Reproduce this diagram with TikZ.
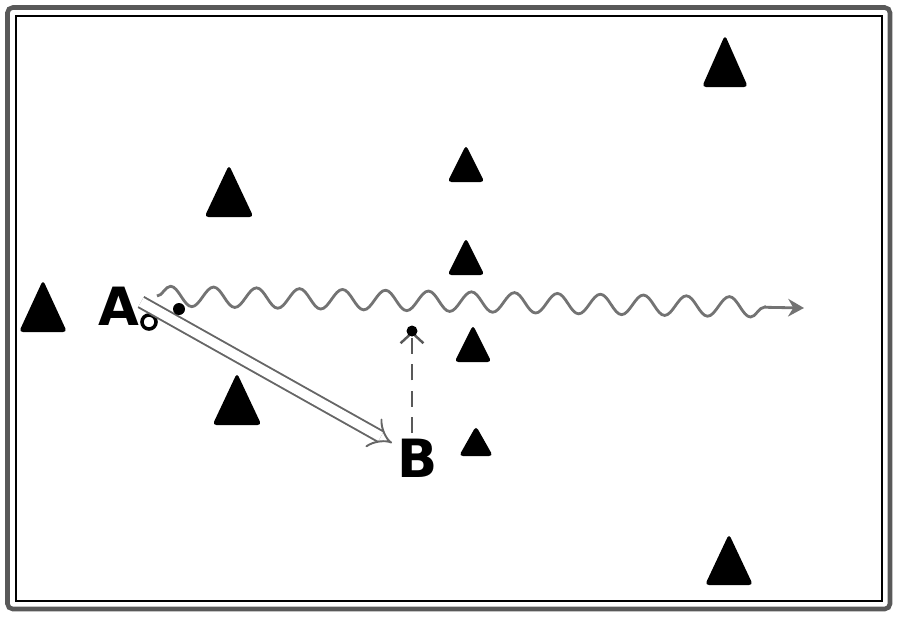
\documentclass[tikz,border=0pt]{standalone}
\usepackage{fontspec}
\setsansfont{DejaVu Sans}
\usetikzlibrary{arrows.meta,decorations.pathmorphing}

\tikzset{
  cone/.style={fill=black, rounded corners=2.2pt},
  player/.style={font=\sffamily\bfseries\fontsize{30}{30}\selectfont, inner sep=0pt},
  dribble/.style={draw=black!55, line width=1.6pt, decorate,
    decoration={snake, segment length=0.86cm, amplitude=0.2cm, post length=0.7cm}},
  pass/.style={draw=black!60, line width=1.1pt, double=white, double distance=5.5pt},
}

\begin{document}
\begin{tikzpicture}[x=0.02cm, y=-0.02cm]
    \useasboundingbox (0,0) rectangle (900,620);
    % frame
    \draw[black!65, line width=2.6pt, rounded corners=3pt] (7.5,7.5) rectangle (890,609);
    \draw[black, line width=0.8pt] (16,16) rectangle (882,601);

    % cones
    \foreach \x/\y/\w/\h in {725/87/46/52, 466/182/37/37, 229/217/49/52,
                             466/275/37/37, 43/332/48/52, 473/362/37/37,
                             237/425/49/52, 476/456/34/30, 729/585/48/51}{
      \fill[cone] (\x-\w/2,\y) -- (\x+\w/2,\y) -- (\x,\y-\h) -- cycle;
    }

    % players
    \node[player] (A) at (119,306) {A};
    \node[player] (B) at (418,458) {B};
    \node[draw, circle, line width=2pt, minimum size=8pt, inner sep=0pt] (ball) at (149,322) {};

    \coordinate (runstart) at (157,296);
    \coordinate (runend) at (804,308);
    \coordinate (passstart) at (141,302);
    \coordinate (passend) at (392,443);
    \coordinate (Btop) at (412,433);
    \coordinate (cut) at (412,331);

    % dribble
    \draw[dribble, -{Stealth[length=9pt, width=10pt]}] (runstart) -- (runend);
    % pass A to B
    \draw[pass, -{Implies}] (passstart) -- (passend);
    \fill (179,309) circle (6);
    % run of B
    \draw[black!65, line width=1.4pt, dash pattern=on 9pt off 6pt, -{Straight Barb[length=6pt, width=13pt]}] (Btop) -- (cut);
    \fill (cut) circle (5.5);
\end{tikzpicture}
\end{document}
